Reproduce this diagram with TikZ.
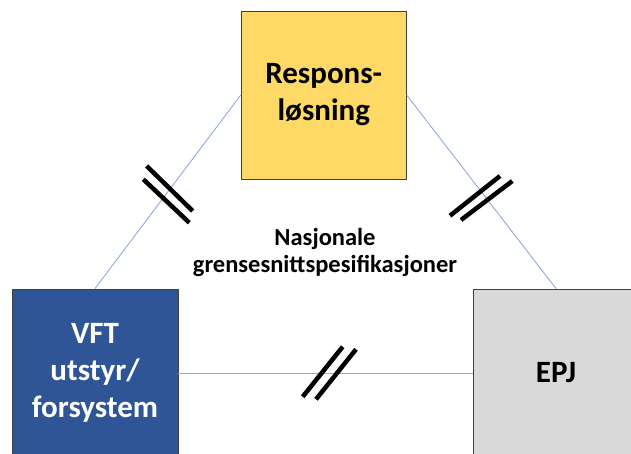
\documentclass[tikz,border=0pt]{standalone}
\usepackage{fontspec}
\setmainfont{Carlito}
\definecolor{boxyellow}{HTML}{FFD966}
\definecolor{boxblue}{HTML}{2F5597}
\definecolor{boxgray}{HTML}{D9D9D9}
\definecolor{connblue}{HTML}{8FAADC}
\tikzset{
  sysbox/.style={draw=black!75, line width=0.9pt, minimum width=166pt, minimum height=168pt, inner sep=0pt, align=center, font=\fontsize{31}{37}\selectfont\bfseries},
  conn/.style={draw=connblue, line width=0.9pt},
  cutmark/.style={draw=black, line width=4.5pt},
  lbl/.style={align=center, font=\fontsize{24.5}{27}\selectfont\bfseries}
}
\begin{document}
\begin{tikzpicture}[x=1pt,y=-1pt]
\useasboundingbox (0,0) rectangle (631,453);
\begin{scope}
\clip (0,0) rectangle (631,453);
\node[sysbox, fill=boxyellow, minimum width=165pt] (resp) at (323.75,95) {Respons-\\løsning};
\node[sysbox, fill=boxblue, text=white] (vft) at (95,373) {VFT\\utstyr/\\forsystem};
\node[sysbox, fill=boxgray] (epj) at (556,373) {EPJ};
\end{scope}
\draw[conn] (resp.west) -- (vft.north);
\draw[conn] (resp.east) -- (epj.north);
\draw[conn] (vft.east) -- (epj.west);
% cut marks
\draw[cutmark] (146.7,166) -- (192.7,211);
\draw[cutmark] (143.3,179.3) -- (189.3,222.7);
\draw[cutmark] (450,215.7) -- (500,176);
\draw[cutmark] (461,220) -- (512.3,181);
\draw[cutmark] (302.7,396.7) -- (342.7,346.7);
\draw[cutmark] (316,399.3) -- (356,349.3);
\node[lbl] (nas) at (325,252) {Nasjonale\\grensesnittspesifikasjoner};
\end{tikzpicture}
\end{document}
